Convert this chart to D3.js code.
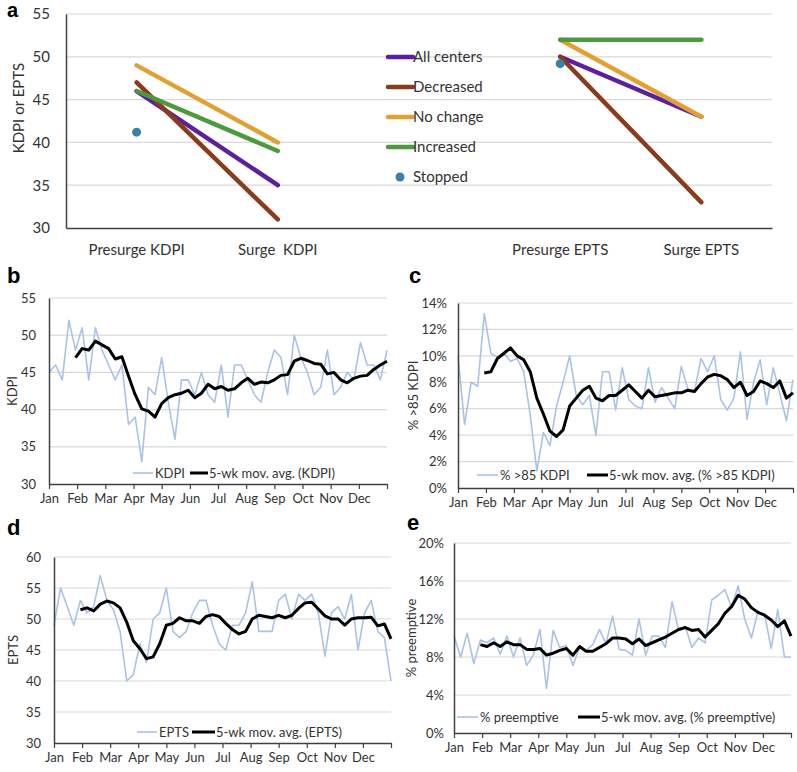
<!DOCTYPE html>
<html><head><meta charset="utf-8">
<script src="https://cdn.jsdelivr.net/npm/d3@7"></script>
<style>
body{margin:0;background:#fff}
text{font-family:Lato,'Open Sans',sans-serif;fill:#333}
.plabel{font-family:'Liberation Sans',Arial,sans-serif;font-weight:bold;fill:#000}
</style>
</head><body><svg id="chart" width="797" height="772"></svg>
<script>
// ---------- Panel a data ----------
const aCategories = ["Presurge KDPI","Surge  KDPI","","Presurge EPTS","Surge EPTS"];
const aGroups = ["All centers","Decreased","No change","Increased","Stopped"];
const kdpiPre   = [46, 47, 49, 46, 41.2];
const kdpiSurge = [35, 31, 40, 39, null];
const eptsPre   = [50, 50, 52, 52, 49.2];
const eptsSurge = [43, 33, 43, 52, null];
const aColors = ["#5b1f9f","#8b3a1b","#e0a032","#4b9a3e","#3e7ea6"];
const aTicks = [30,35,40,45,50,55];

// ---------- Weekly panels data ----------
const months = ["Jan","Feb","Mar","Apr","May","Jun","Jul","Aug","Sep","Oct","Nov","Dec"];
const kdpiWeekly = [45,46,44,52,48,51,44,51,48,46,44,46,38,39,33,43,42,47,41,36,44,44,42,45,42,41,46,39,46,46,44,42,41,45,48,47,42,50,47,45,42,43,48,42,43,45,44,49,46,46,44,48];
const kdpiMA = [null,null,null,null,47,48.2,48,49.2,48.7,48.2,46.8,47.1,44.5,42,40.1,39.8,39,40.8,41.6,42,42.2,42.6,41.6,42.2,43.4,42.8,43.1,42.6,42.8,43.6,44.2,43.4,43.7,43.6,44,44.6,44.7,46.5,46.9,46.6,46.2,46.1,44.8,45,44,43.6,44.2,44.5,44.6,45.4,46,46.5];
const highKdpiWeekly = [10,4.8,8,7.7,13.2,10.2,9.9,10.2,9.6,9.8,8.8,5.5,1.3,4.2,3.2,6.2,8,10,7,6.3,7,4,8.8,8.8,5.9,9.1,6.7,6.2,6,9.1,6.5,7.6,6.8,6,9.2,7.5,7.3,9.8,8.8,10,6.7,5.9,6.8,10.3,5.2,8,9.7,6.3,9.1,7.1,5.1,8.2];
const highKdpiMA = [null,null,null,null,8.7,8.8,9.8,10.2,10.6,10,9.7,8.8,6.8,5.6,4.3,3.9,4.4,6.2,6.8,7.4,7.7,6.8,6.6,7,7,7.4,7.8,7.3,6.8,7.4,6.9,7,7.1,7.2,7.2,7.4,7.3,7.9,8.4,8.6,8.5,8.2,7.6,8,7,7.3,8.1,7.9,7.6,8.1,6.8,7.2];
const eptsWeekly = [49,55,52,49,53,51,52,57,53,51.5,48,40,41,46,43,50,51,55,48,47,48,51,53,53,49,46,45,49,49,51,56,48,48,48,53,54,50,54,53,54,51,44,51,52,50,54,45,51,53,48,47,40];
const eptsMA = [null,null,null,null,51.5,51.8,51.3,52.4,52.9,52.6,51.8,49.5,46.5,45.2,43.6,43.9,46,49,49.3,50.2,49.7,49.7,49.3,50.4,50.7,50.4,49.3,48.3,47.6,48,50,50.6,50.4,50.2,50.6,50.2,50.6,51.7,52.6,52.7,51.6,50.5,50,50,49,50,50.2,50.2,50.3,48.9,49.2,46.8];
const preemptWeekly = [10.2,8,10.5,7.3,9.8,9.5,10,8.3,10.2,8,10,7.1,8.2,10.9,4.7,10.8,9,9.2,7.1,9,8.7,9.3,10.9,9.4,12.3,8.8,8.7,8.2,12,8.2,10.2,10.2,9,13.8,10.8,11.2,9,10,9.5,14,14.5,15.1,13.2,15.5,12,10,12.8,12.5,8.9,13,8,8];
const preemptMA = [null,null,null,null,9.3,9.1,9.5,9.1,9.6,9.3,9.3,8.8,8.8,8.9,8.2,8.4,8.7,8.9,8.2,9.1,8.6,8.6,9,9.4,10,10,9.9,9.4,9.9,9.2,9.5,9.8,10.1,10.5,10.9,11.1,10.8,10.9,10.1,10.8,11.5,12.6,13.3,14.5,14.1,13.2,12.7,12.4,11.9,11.2,11.8,10.2];

const svg = d3.select("#chart");
const gridColor = "#d9d9d9", axisColor = "#404040";
const lightBlue = "#a9c3e8";

// ---------- Panel a ----------
(function(){
  const x0=66, x1=772, y0=228, y1=14;
  const g = svg.append("g");
  const x = d3.scaleBand().domain(d3.range(aCategories.length)).range([x0,x1]);
  const cx = i => x(i) + x.bandwidth()/2;
  const y = d3.scaleLinear().domain([30,55]).range([y0,y1]);
  g.selectAll("line.grid").data(aTicks.slice(1)).join("line")
    .attr("x1",x0).attr("x2",x1).attr("y1",d=>y(d)).attr("y2",d=>y(d))
    .attr("stroke",gridColor).attr("stroke-width",1.2);
  const ya = g.append("g").attr("transform",`translate(${x0},0)`)
    .call(d3.axisLeft(y).tickValues(aTicks).tickSize(0).tickPadding(16));
  ya.select(".domain").attr("stroke",axisColor).attr("stroke-width",1.5);
  ya.selectAll("text").style("font-size","15px").style("font-family","Lato").attr("fill","#333");
  const xa = g.append("g").attr("transform",`translate(0,${y0})`)
    .call(d3.axisBottom(x).tickSize(0).tickSizeOuter(0).tickPadding(16).tickFormat(i=>aCategories[i]));
  xa.select(".domain").attr("stroke",axisColor).attr("stroke-width",1.5);
  xa.selectAll("text").style("font-size","15px").style("font-family","Lato").style("white-space","pre").attr("fill","#333");
  g.append("text").attr("transform",`translate(19,108) rotate(-90)`).attr("text-anchor","middle")
    .attr("dy","0.35em").style("font-size","15px").text("KDPI or EPTS");
  const pairs = [[0,1,kdpiPre,kdpiSurge],[3,4,eptsPre,eptsSurge]];
  aGroups.forEach((name,k)=>{
    pairs.forEach(([c0,c1,pre,surge])=>{
      if (surge[k] !== null) {
        g.append("line").attr("x1",cx(c0)).attr("x2",cx(c1))
          .attr("y1",y(pre[k])).attr("y2",y(surge[k]))
          .attr("stroke",aColors[k]).attr("stroke-width",4.5).attr("stroke-linecap","round");
      } else {
        g.append("circle").attr("cx",cx(c0)).attr("cy",y(pre[k])).attr("r",4.5).attr("fill",aColors[k]);
      }
    });
  });
  // legend
  const lx = 388, ly0 = 57, dy = 30;
  aGroups.forEach((name,k)=>{
    const yy = ly0 + k*dy;
    if (k < 4) {
      g.append("line").attr("x1",lx).attr("x2",lx+25).attr("y1",yy).attr("y2",yy)
        .attr("stroke",aColors[k]).attr("stroke-width",4.5).attr("stroke-linecap","round");
    } else {
      g.append("circle").attr("cx",lx+12).attr("cy",yy).attr("r",4.5).attr("fill",aColors[k]);
    }
    g.append("text").attr("x",lx+25).attr("y",yy).attr("dy","0.35em").style("font-size","15px").text(name);
  });
  svg.append("text").attr("class","plabel").attr("x",7).attr("y",17).style("font-size","20px").text("a");
})();

// ---------- weekly panels ----------
function weeklyPanel(cfg){
  const g = svg.append("g");
  const n = cfg.weekly.length;
  const x = d3.scaleLinear().domain([0,n-1]).range([cfg.x0,cfg.x1]);
  const xm = d3.scaleLinear().domain([0,12]).range([cfg.x0,cfg.x1]);
  const y = d3.scaleLinear().domain(cfg.domain).range([cfg.y0,cfg.y1]);
  g.selectAll("line.grid").data(cfg.ticks.slice(1)).join("line")
    .attr("x1",cfg.x0).attr("x2",cfg.x1).attr("y1",d=>y(d)).attr("y2",d=>y(d))
    .attr("stroke",gridColor).attr("stroke-width",1.2);
  const line = d3.line().defined(d=>d!==null).x((d,i)=>x(i)).y(d=>y(d));
  g.append("path").attr("d",line(cfg.weekly)).attr("fill","none").attr("stroke",lightBlue).attr("stroke-width",1.6).attr("stroke-linejoin","round");
  g.append("path").attr("d",line(cfg.ma)).attr("fill","none").attr("stroke","#000").attr("stroke-width",3).attr("stroke-linejoin","round");
  const ya = g.append("g").attr("transform",`translate(${cfg.x0},0)`)
    .call(d3.axisLeft(y).tickValues(cfg.ticks).tickSize(0).tickPadding(cfg.tickPad).tickFormat(cfg.fmt));
  ya.select(".domain").attr("stroke",axisColor).attr("stroke-width",1.5);
  ya.selectAll("text").style("font-size","13px").style("font-family","Lato").attr("fill","#333");
  const xa = g.append("g").attr("transform",`translate(0,${cfg.y0})`)
    .call(d3.axisBottom(xm).tickValues(d3.range(13)).tickSize(5).tickSizeOuter(0).tickPadding(5).tickFormat(i=>months[i]||""));
  xa.select(".domain").attr("stroke",axisColor).attr("stroke-width",1.5);
  xa.selectAll(".tick line").attr("stroke",axisColor).attr("stroke-width",1.2);
  xa.selectAll("text").style("font-size","13px").style("font-family","Lato").attr("fill","#333");
  g.append("text").attr("transform",`translate(${cfg.titleX},${(cfg.y0+cfg.y1)/2}) rotate(-90)`)
    .attr("text-anchor","middle").attr("dy","0.35em").style("font-size","13px").text(cfg.title);
  const L = cfg.legend;
  g.append("line").attr("x1",L.a0).attr("x2",L.a1).attr("y1",L.y).attr("y2",L.y).attr("stroke",lightBlue).attr("stroke-width",1.6);
  g.append("text").attr("x",L.a1+2).attr("y",L.y).attr("dy","0.35em").style("font-size","13px").text(cfg.name);
  g.append("line").attr("x1",L.b0).attr("x2",L.b1).attr("y1",L.y).attr("y2",L.y).attr("stroke","#000").attr("stroke-width",3);
  g.append("text").attr("x",L.b1+1).attr("y",L.y).attr("dy","0.35em").style("font-size","13px").text(`5-wk mov. avg. (${cfg.name})`);
  svg.append("text").attr("class","plabel").attr("x",cfg.lab[0]).attr("y",cfg.lab[1]).style("font-size","22px").text(cfg.letter);
}
const pct = d=>d+"%";
weeklyPanel({letter:"b",lab:[7,283],weekly:kdpiWeekly,ma:kdpiMA,name:"KDPI",title:"KDPI",titleX:12,tickPad:13,
  x0:49,x1:387,y0:484,y1:298,domain:[30,55],ticks:[30,35,40,45,50,55],fmt:d=>d,
  legend:{a0:133,a1:153,b0:190,b1:208,y:473}});
weeklyPanel({letter:"c",lab:[409,283],weekly:highKdpiWeekly,ma:highKdpiMA,name:"% >85 KDPI",title:"% >85 KDPI",titleX:413,tickPad:11,
  x0:458,x1:793,y0:488,y1:303,domain:[0,14],ticks:[0,2,4,6,8,10,12,14],fmt:pct,
  legend:{a0:477,a1:498,b0:587,b1:608,y:475}});
weeklyPanel({letter:"d",lab:[7,535],weekly:eptsWeekly,ma:eptsMA,name:"EPTS",title:"EPTS",titleX:13,tickPad:13,
  x0:54,x1:391,y0:743,y1:557,domain:[30,60],ticks:[30,35,40,45,50,55,60],fmt:d=>d,
  legend:{a0:137,a1:157,b0:192,b1:215,y:732}});
weeklyPanel({letter:"e",lab:[407,530],weekly:preemptWeekly,ma:preemptMA,name:"% preemptive",title:"% preemptive",titleX:411,tickPad:10,
  x0:454,x1:791,y0:733,y1:543,domain:[0,20],ticks:[0,4,8,12,16,20],fmt:pct,
  legend:{a0:457,a1:478,b0:578,b1:600,y:717}});
</script>
</body></html>
